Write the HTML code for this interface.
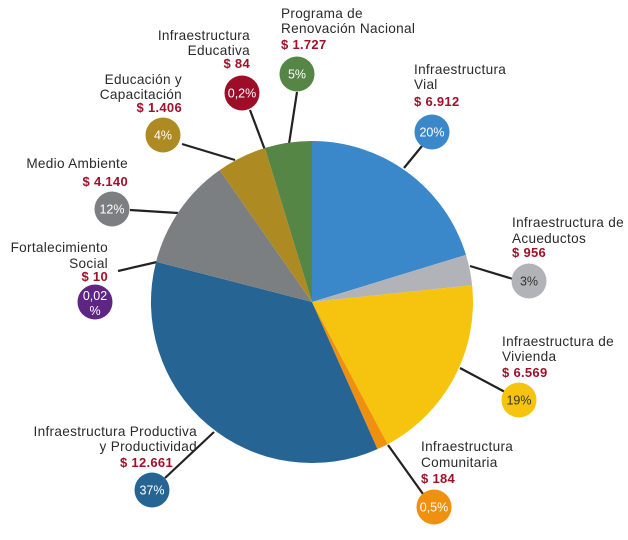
<!DOCTYPE html>
<html><head><meta charset="utf-8"><style>
html,body{margin:0;padding:0;background:#fff}
svg text{font-family:"Liberation Sans",sans-serif}
.t{font-size:13.6px;fill:#2a2a2a;letter-spacing:0.3px}
.p{font-size:13px;font-weight:bold;fill:#a0102a;letter-spacing:0.3px}
.c{font-size:12.5px;fill:#fff;text-anchor:middle}
.d{font-size:12.5px;fill:#333;text-anchor:middle}
.e{text-anchor:end}
</style></head><body>
<svg width="628" height="535" viewBox="0 0 628 535" xmlns="http://www.w3.org/2000/svg">
<g stroke="#222" stroke-width="2.2">
<line x1="404" y1="168" x2="422" y2="146"/>
<line x1="470" y1="266" x2="513" y2="279"/>
<line x1="460" y1="368" x2="505" y2="392"/>
<line x1="388" y1="445" x2="423" y2="494"/>
<line x1="214" y1="432" x2="165" y2="478"/>
<line x1="157" y1="262" x2="118" y2="271"/>
<line x1="178" y1="213" x2="130" y2="210"/>
<line x1="235" y1="160" x2="182" y2="144"/>
<line x1="265" y1="150" x2="250" y2="110"/>
<line x1="289" y1="144" x2="297" y2="92"/>
</g>
<g>
<path d="M312,302 L312,141 A161,161 0 0 1 466,254.9 Z" fill="#3a88c9"/>
<path d="M312,302 L466,254.9 A161,161 0 0 1 472.1,285.2 Z" fill="#b1b3b8"/>
<path d="M312,302 L472.1,285.2 A161,161 0 0 1 387.6,444.2 Z" fill="#f6c40f"/>
<path d="M312,302 L387.6,444.2 A161,161 0 0 1 377.5,449.1 Z" fill="#f0900f"/>
<path d="M312,302 L377.5,449.1 A161,161 0 0 1 156.1,261.7 Z" fill="#256493"/>
<path d="M312,302 L156.1,261.7 A161,161 0 0 1 219.7,170.1 Z" fill="#7c7f81"/>
<path d="M312,302 L219.7,170.1 A161,161 0 0 1 264.9,148 Z" fill="#ad8a22"/>
<path d="M312,302 L264.9,148 A161,161 0 0 1 312,141 Z" fill="#568646"/>
</g>
<circle cx="432" cy="132" r="17.5" fill="#3a88c9"/><text class="c" x="432" y="136.5">20%</text>
<circle cx="529" cy="281" r="17.5" fill="#b1b3b8"/><text class="d" x="529" y="285.5">3%</text>
<circle cx="519" cy="400" r="17.5" fill="#f6c40f"/><text class="d" x="519" y="404.5">19%</text>
<circle cx="434" cy="507" r="17.5" fill="#f0900f"/><text class="c" x="434" y="511.5">0,5%</text>
<circle cx="152" cy="490" r="17.5" fill="#256493"/><text class="c" x="152" y="494.5">37%</text>
<circle cx="95" cy="302" r="17.5" fill="#5e2585"/><text class="c" x="95" y="300">0,02</text><text class="c" x="95" y="315">%</text>
<circle cx="112" cy="209" r="17.5" fill="#7c7f81"/><text class="c" x="112" y="213.5">12%</text>
<circle cx="163" cy="135" r="17.5" fill="#ad8a22"/><text class="c" x="163" y="139.5">4%</text>
<circle cx="242" cy="93" r="17.5" fill="#9e0d27"/><text class="c" x="242" y="97.5">0,2%</text>
<circle cx="297" cy="74" r="17.5" fill="#568646"/><text class="c" x="297" y="78.5">5%</text>

<text class="t" x="281" y="18">Programa de</text><text class="t" x="281" y="33">Renovación Nacional</text><text class="p" x="281" y="49">$ 1.727</text>
<text class="t" x="414" y="74">Infraestructura</text><text class="t" x="414" y="89">Vial</text><text class="p" x="414" y="106">$ 6.912</text>
<text class="t" x="512" y="227">Infraestructura de</text><text class="t" x="512" y="243">Acueductos</text><text class="p" x="512" y="257">$ 956</text>
<text class="t" x="502" y="346">Infraestructura de</text><text class="t" x="502" y="361">Vivienda</text><text class="p" x="502" y="377">$ 6.569</text>
<text class="t" x="421" y="451">Infraestructura</text><text class="t" x="421" y="467">Comunitaria</text><text class="p" x="421" y="483">$ 184</text>
<text class="t e" x="197" y="436">Infraestructura Productiva</text><text class="t e" x="197" y="451">y Productividad</text><text class="p e" x="173" y="467">$ 12.661</text>
<text class="t e" x="108" y="252">Fortalecimiento</text><text class="t e" x="108" y="268">Social</text><text class="p e" x="108" y="281">$ 10</text>
<text class="t e" x="128" y="168">Medio Ambiente</text><text class="p e" x="128" y="186">$ 4.140</text>
<text class="t e" x="182" y="84">Educación y</text><text class="t e" x="182" y="99">Capacitación</text><text class="p e" x="182" y="112">$ 1.406</text>
<text class="t e" x="250" y="40">Infraestructura</text><text class="t e" x="250" y="55">Educativa</text><text class="p e" x="250" y="68">$ 84</text>
</svg>
</body></html>
